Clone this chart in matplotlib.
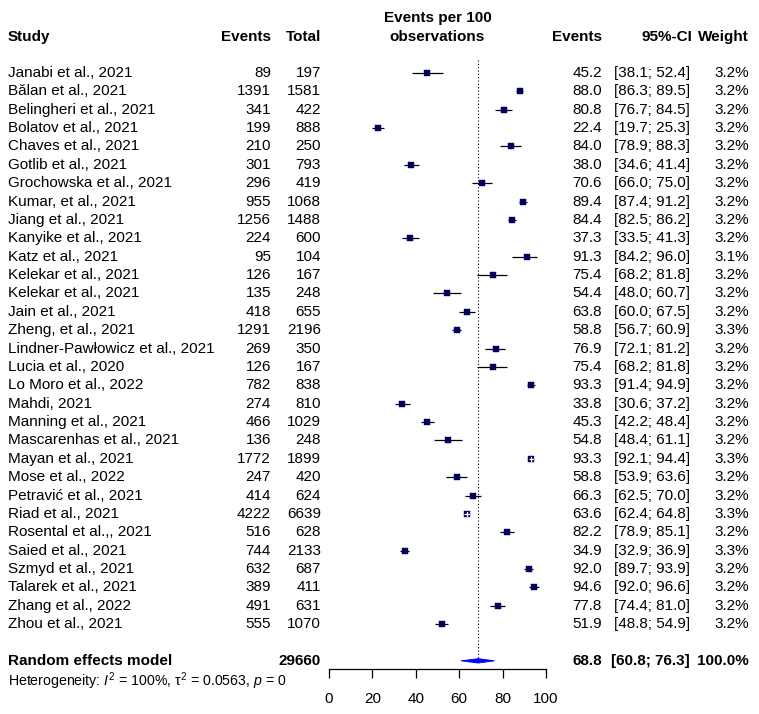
import matplotlib
matplotlib.use("Agg")
import matplotlib.pyplot as plt
from matplotlib import transforms
import numpy as np

plt.rcParams['font.family'] = ['Liberation Sans', 'DejaVu Sans']
plt.rcParams['mathtext.fontset'] = 'custom'
plt.rcParams['mathtext.rm'] = 'Liberation Sans'
plt.rcParams['mathtext.it'] = 'Liberation Sans:italic'
plt.rcParams['mathtext.bf'] = 'Liberation Sans:bold'

# ---- data ----
studies = ["Janabi et al., 2021", "Bălan et al., 2021", "Belingheri et al., 2021",
           "Bolatov et al., 2021", "Chaves et al., 2021", "Gotlib et al., 2021",
           "Grochowska et al., 2021", "Kumar, et al., 2021", "Jiang et al., 2021",
           "Kanyike et al., 2021", "Katz et al., 2021", "Kelekar et al., 2021",
           "Kelekar et al., 2021", "Jain et al., 2021", "Zheng, et al., 2021",
           "Lindner-Pawłowicz et al., 2021", "Lucia et al., 2020", "Lo Moro et al., 2022",
           "Mahdi, 2021", "Manning et al., 2021", "Mascarenhas et al., 2021",
           "Mayan et al., 2021", "Mose et al., 2022", "Petravić et al., 2021",
           "Riad et al., 2021", "Rosental et al.,, 2021", "Saied et al., 2021",
           "Szmyd et al., 2021", "Talarek et al., 2021", "Zhang et al., 2022",
           "Zhou et al., 2021"]
events = [89, 1391, 341, 199, 210, 301, 296, 955, 1256, 224, 95, 126, 135, 418, 1291,
          269, 126, 782, 274, 466, 136, 1772, 247, 414, 4222, 516, 744, 632, 389, 491, 555]
totals = [197, 1581, 422, 888, 250, 793, 419, 1068, 1488, 600, 104, 167, 248, 655, 2196,
          350, 167, 838, 810, 1029, 248, 1899, 420, 624, 6639, 628, 2133, 687, 411, 631, 1070]
est = [45.2, 88.0, 80.8, 22.4, 84.0, 38.0, 70.6, 89.4, 84.4, 37.3, 91.3, 75.4, 54.4, 63.8,
       58.8, 76.9, 75.4, 93.3, 33.8, 45.3, 54.8, 93.3, 58.8, 66.3, 63.6, 82.2, 34.9, 92.0,
       94.6, 77.8, 51.9]
lower = [38.1, 86.3, 76.7, 19.7, 78.9, 34.6, 66.0, 87.4, 82.5, 33.5, 84.2, 68.2, 48.0, 60.0,
         56.7, 72.1, 68.2, 91.4, 30.6, 42.2, 48.4, 92.1, 53.9, 62.5, 62.4, 78.9, 32.9, 89.7,
         92.0, 74.4, 48.8]
upper = [52.4, 89.5, 84.5, 25.3, 88.3, 41.4, 75.0, 91.2, 86.2, 41.3, 96.0, 81.8, 60.7, 67.5,
         60.9, 81.2, 81.8, 94.9, 37.2, 48.4, 61.1, 94.4, 63.6, 70.0, 64.8, 85.1, 36.9, 93.9,
         96.6, 81.0, 54.9]
weights = [3.2, 3.2, 3.2, 3.2, 3.2, 3.2, 3.2, 3.2, 3.2, 3.2, 3.1, 3.2, 3.2, 3.2, 3.3, 3.2,
           3.2, 3.2, 3.2, 3.2, 3.2, 3.3, 3.2, 3.2, 3.3, 3.2, 3.3, 3.2, 3.2, 3.2, 3.2]

re_label = "Random effects model"
re_total = 29660
re_est, re_lower, re_upper = 68.8, 60.8, 76.3
het_text = r"Heterogeneity: $I^2$ = 100%, $\mathrm{\tau}^2$ = 0.0563, $p$ = 0"
xticks = [0, 20, 40, 60, 80, 100]

# ---- layout (pixels of a 759x714 canvas) ----
W, H = 759, 714
fig = plt.figure(figsize=(W / 100, H / 100), dpi=100)
px_left, px_right, px_axis = 329, 546, 669
row0, step = 73, 18.37
ax = fig.add_axes([px_left / W, 1 - px_axis / H, (px_right - px_left) / W, px_axis / H])
ax.set_xlim(0, 100)
ax.set_ylim((px_axis - row0) / step, -row0 / step)

n = len(studies)
rows = np.arange(n)
re_row = n + 1
het_row = n + 2.1
hdr_row = -1.97

tr = transforms.blended_transform_factory(fig.transFigure, ax.transData)
fs = 11


def put(px, row, s, ha='left', bold=False, size=fs):
    ax.text(px / W, row, s, transform=tr, ha=ha, va='center', fontsize=size,
            fontweight='bold' if bold else 'normal', clip_on=False)


# headers
put(8, hdr_row, "Study", bold=True)
put(271, hdr_row, "Events", ha='right', bold=True)
put(321, hdr_row, "Total", ha='right', bold=True)
ax.text(50, hdr_row - 1.05, "Events per 100", ha='center', va='center', fontsize=fs,
        fontweight='bold', clip_on=False)
ax.text(50, hdr_row, "observations", ha='center', va='center', fontsize=fs,
        fontweight='bold', clip_on=False)
put(602, hdr_row, "Events", ha='right', bold=True)
put(692, hdr_row, "95%-CI", ha='right', bold=True)
put(749, hdr_row, "Weight", ha='right', bold=True)

# study rows
for i in range(n):
    put(8, rows[i], studies[i])
    put(271, rows[i], str(events[i]), ha='right')
    put(321, rows[i], str(totals[i]), ha='right')
    put(602, rows[i], f"{est[i]:.1f}", ha='right')
    put(690, rows[i], f"[{lower[i]:.1f}; {upper[i]:.1f}]", ha='right')
    put(749, rows[i], f"{weights[i]:.1f}%", ha='right')

# squares and CIs
box_color = '#00005c'
for i in range(n):
    side_px = 6.9 * np.sqrt(weights[i] / 3.3)
    ax.plot([lower[i], upper[i]], [rows[i], rows[i]], color='black', lw=0.9,
            solid_capstyle='butt', zorder=2)
    ax.plot(est[i], rows[i], marker='s', ms=side_px * 0.72, color=box_color,
            mec=box_color, mew=0.3, zorder=3, snap=False)
    x0 = ax.transData.transform((lower[i], 0))[0]
    x1 = ax.transData.transform((upper[i], 0))[0]
    if x1 - x0 < side_px:
        ax.plot([lower[i], upper[i]], [rows[i], rows[i]], color='white', lw=0.9,
                solid_capstyle='butt', zorder=4)
        ax.plot([est[i], est[i]], [rows[i] - 0.1, rows[i] + 0.1], color='white', lw=0.9,
                zorder=4)

# pooled estimate
h = 0.12
ax.fill([re_lower, re_est, re_upper, re_est], [re_row, re_row - h, re_row, re_row + h],
        color='#0000ff', ec='#0000ff', lw=0.6, zorder=3)
ax.vlines(re_est, -0.7, re_row - h, colors='black', linestyles=(0, (1, 2)), lw=0.8,
          zorder=1)

put(8, re_row, re_label, bold=True)
put(321, re_row, str(re_total), ha='right', bold=True)
put(602, re_row, f"{re_est:.1f}", ha='right', bold=True)
put(690, re_row, f"[{re_lower:.1f}; {re_upper:.1f}]", ha='right', bold=True)
put(749, re_row, "100.0%", ha='right', bold=True)
put(8, het_row, het_text, size=10.2)

# axis
for s in ['left', 'top', 'right']:
    ax.spines[s].set_visible(False)
ax.spines['bottom'].set_bounds(0, 100)
ax.spines['bottom'].set_linewidth(0.9)
ax.set_yticks([])
ax.set_xticks(xticks)
ax.tick_params(axis='x', direction='out', length=6.5, width=0.9, pad=10, labelsize=fs)
ax.patch.set_visible(False)

fig.savefig("out.png", dpi=100)
